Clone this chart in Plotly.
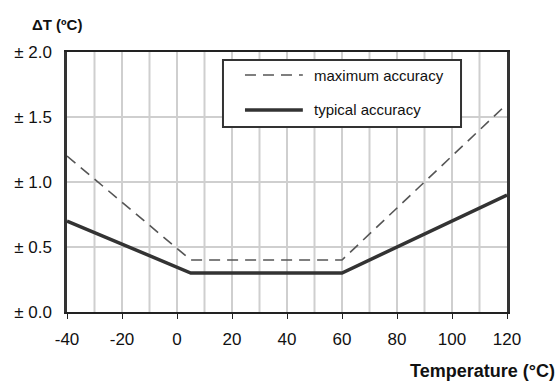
import plotly.graph_objects as go

temps_max = [-40, 5, 60, 120]
acc_max = [1.2, 0.4, 0.4, 1.6]
temps_typ = [-40, 5, 60, 120]
acc_typ = [0.7, 0.3, 0.3, 0.9]

xtick_vals = [-40, -20, 0, 20, 40, 60, 80, 100, 120]
xtick_text = ["-40", "-20", "0", "20", "40", "60", "80", "100", "120"]
ytick_vals = [0.0, 0.5, 1.0, 1.5, 2.0]
ytick_text = ["± 0.0", "± 0.5", "± 1.0", "± 1.5", "± 2.0"]
grid_x = [-30, -20, -10, 0, 10, 20, 30, 40, 50, 60, 70, 80, 90, 100, 110]
grid_y = [0.5, 1.0, 1.5]

FONT = "Liberation Sans, Arial, sans-serif"
DASH_COLOR = "#555555"
SOLID_COLOR = "#333333"

fig = go.Figure()
fig.add_trace(go.Scatter(x=temps_max, y=acc_max, mode="lines", name="maximum accuracy",
                         line=dict(color=DASH_COLOR, width=1.6, dash="11px,7px")))
fig.add_trace(go.Scatter(x=temps_typ, y=acc_typ, mode="lines", name="typical accuracy",
                         line=dict(color=SOLID_COLOR, width=3.5)))

fig.update_layout(
    width=557, height=383,
    margin=dict(l=67, r=50, t=52, b=71),
    paper_bgcolor="white", plot_bgcolor="white",
    font=dict(family=FONT, size=17, color="#111111"),
    showlegend=False,
    xaxis=dict(range=[-40, 120], tickvals=xtick_vals, ticktext=xtick_text,
               showgrid=False, ticks="outside", ticklen=5, tickcolor="#222",
               showline=True, linecolor="#222222", linewidth=2, mirror=True,
               zeroline=False, tickfont=dict(size=17), ticklabelstandoff=6),
    yaxis=dict(range=[0, 2.0], tickvals=ytick_vals, ticktext=ytick_text,
               showgrid=False, ticks="", showline=True, linecolor="#333333",
               linewidth=2.5, mirror=True, zeroline=False, tickfont=dict(size=17),
               ticklabelstandoff=9),
    annotations=[
        dict(text="<b>ΔT (ºC)</b>", xref="paper", yref="paper", x=-0.084, y=1.065,
             xanchor="left", yanchor="bottom", showarrow=False, font=dict(size=15)),
        dict(text="<b>Temperature (°C)</b>", xref="paper", yref="paper", x=1.113, y=-0.18,
             xanchor="right", yanchor="top", showarrow=False, font=dict(size=18)),
        dict(text="maximum accuracy", xref="paper", yref="paper", x=0.557, y=0.9115,
             xanchor="left", yanchor="middle", showarrow=False, font=dict(size=15)),
        dict(text="typical accuracy", xref="paper", yref="paper", x=0.557, y=0.777,
             xanchor="left", yanchor="middle", showarrow=False, font=dict(size=15)),
    ],
)

# grid lines
for xv in grid_x:
    fig.add_shape(type="line", x0=xv, x1=xv, y0=0, y1=2.0, xref="x", yref="y",
                  line=dict(color="#cfcfcf", width=2), layer="below")
for yv in grid_y:
    fig.add_shape(type="line", x0=-40, x1=120, y0=yv, y1=yv, xref="x", yref="y",
                  line=dict(color="#cfcfcf", width=2), layer="below")

# legend box
fig.add_shape(type="rect", xref="paper", yref="paper", x0=0.3545, x1=0.8955,
              y0=0.7115, y1=0.969, line=dict(color="#333333", width=2),
              fillcolor="white", layer="above")
fig.add_shape(type="line", xref="paper", yref="paper", x0=0.4045, x1=0.536,
              y0=0.9115, y1=0.9115, line=dict(color=DASH_COLOR, width=1.6, dash="11px,7px"),
              layer="above")
fig.add_shape(type="line", xref="paper", yref="paper", x0=0.4045, x1=0.536,
              y0=0.777, y1=0.777, line=dict(color=SOLID_COLOR, width=3.5), layer="above")

fig.write_html("out.html")
